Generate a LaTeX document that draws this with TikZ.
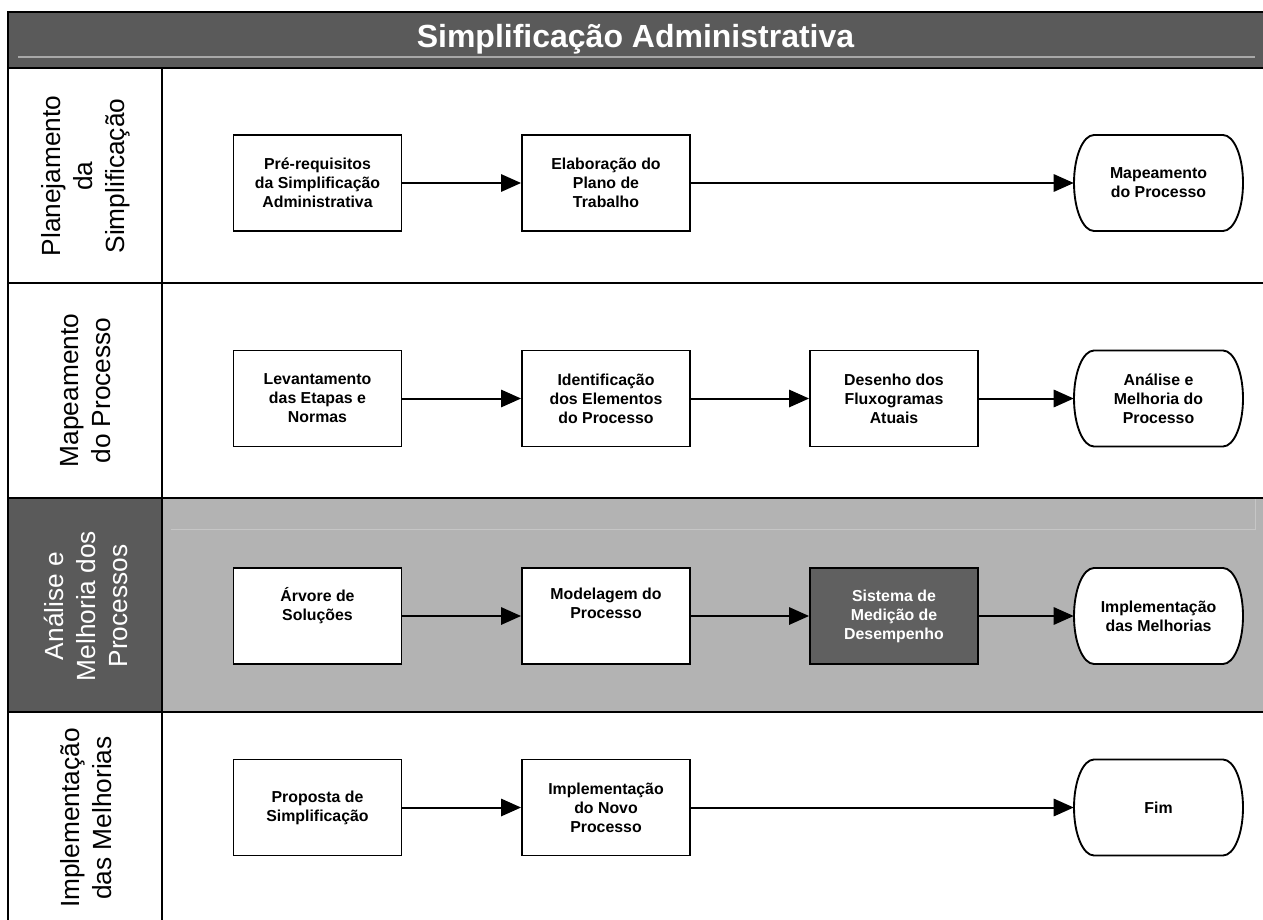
\documentclass[tikz,border=0pt]{standalone}
\usepackage{fontspec}
\setmainfont{Liberation Sans}
\usetikzlibrary{arrows.meta}
\definecolor{darkgr}{HTML}{5A5A5A}
\definecolor{lanegr}{HTML}{B3B3B3}
\definecolor{boxdark}{HTML}{606060}
\definecolor{thinlineA}{HTML}{A8A8A8}
\definecolor{thinlineB}{HTML}{C6C6C6}
\tikzset{
  laneline/.style={line width=2.2pt, black},
  stepbox/.style={draw=black, line width=1.4pt, fill=white, rectangle, minimum width=126pt, minimum height=72pt, inner sep=0pt, align=center, font=\fontsize{11.9}{14.25}\selectfont\bfseries},
  darkbox/.style={stepbox, fill=boxdark, text=white},
  termline/.style={draw=black, line width=1.4pt, fill=white},
  termtext/.style={rectangle, minimum width=126.75pt, minimum height=72pt, inner sep=0pt, align=center, font=\fontsize{11.9}{14.25}\selectfont\bfseries},
  lanelab/.style={rotate=90, align=center, font=\fontsize{19.7}{24}\selectfont},
  arr/.style={line width=1.5pt, -{Triangle[length=15pt,width=13pt]}},
}
\newcommand\termnode[4]{%
  \draw[termline] (#2-64.5,#3+48) -- (#2+64.5,#3+48) arc[start angle=90,end angle=-90,x radius=20,y radius=48] -- (#2-64.5,#3-48) arc[start angle=270,end angle=90,x radius=20,y radius=48] -- cycle;
  \node[termtext] (#1) at (#2,#3) {#4};}
\begin{document}
\begin{tikzpicture}[x=0.75pt,y=0.75pt]
\useasboundingbox (0,0) rectangle (1263,-920);
% title bar
\fill[darkgr] (8,-12) rectangle (1263,-68);
\draw[thinlineA, line width=0.9pt] (18,-57) -- (1255,-57);
% lane 3 fills
\fill[darkgr] (8,-498) rectangle (162,-712);
\fill[lanegr] (162,-498) rectangle (1263,-712);
\draw[thinlineB, line width=0.75pt] (171,-529) -- (1255,-529) -- (1255,-498);
% borders
\draw[laneline] (1263,-12) -- (8,-12) -- (8,-920);
\draw[laneline] (8,-68) -- (1263,-68);
\draw[laneline] (8,-283) -- (1263,-283);
\draw[laneline] (8,-498) -- (1263,-498);
\draw[laneline] (8,-712) -- (1263,-712);
\draw[laneline] (162,-68) -- (162,-920);
% title
\node[text=white, font=\fontsize{24}{28}\selectfont\bfseries] (title) at (635.5,-39) {Simplificação Administrativa};
% lane labels
\node[lanelab] (l1) at (86,-176) {Planejamento\\da\\Simplificação};
\node[lanelab] (l2) at (86,-390.5) {Mapeamento\\do Processo};
\node[lanelab, text=white] (l3) at (86,-606) {Análise e\\Melhoria dos\\Processos};
\node[lanelab] (l4) at (86,-818) {Implementação\\das Melhorias};
% lane 1
\node[stepbox] (b11) at (317.5,-183) {Pré-requisitos\\da Simplificação\\Administrativa};
\node[stepbox] (b12) at (606,-183) {Elaboração do\\Plano de\\Trabalho};
\termnode{t1}{1158.5}{-183}{Mapeamento\\do Processo}
\draw[arr] (b11) -- (b12);
\draw[arr] (b12) -- (t1);
% lane 2
\node[stepbox] (b21) at (317.5,-398.5) {Levantamento\\das Etapas e\\Normas};
\node[stepbox] (b22) at (606,-398.5) {Identificação\\dos Elementos\\do Processo};
\node[stepbox] (b23) at (894,-398.5) {Desenho dos\\Fluxogramas\\Atuais};
\termnode{t2}{1158.5}{-398.5}{Análise e\\Melhoria do\\Processo}
\draw[arr] (b21) -- (b22);
\draw[arr] (b22) -- (b23);
\draw[arr] (b23) -- (t2);
% lane 3
\node[stepbox] (b31) at (317.5,-616) {Árvore de\\Soluções\\\strut};
\node[stepbox] (b32) at (606,-616) {Modelagem do\\Processo\\\strut};
\node[darkbox] (b33) at (894,-616) {Sistema de\\Medição de\\Desempenho};
\termnode{t3}{1158.5}{-616}{Implementação\\das Melhorias}
\draw[arr] (b31) -- (b32);
\draw[arr] (b32) -- (b33);
\draw[arr] (b33) -- (t3);
% lane 4
\node[stepbox] (b41) at (317.5,-807.5) {Proposta de\\Simplificação};
\node[stepbox] (b42) at (606,-807.5) {Implementação\\do Novo\\Processo};
\termnode{t4}{1158.5}{-807.5}{Fim}
\draw[arr] (b41) -- (b42);
\draw[arr] (b42) -- (t4);
\end{tikzpicture}
\end{document}
